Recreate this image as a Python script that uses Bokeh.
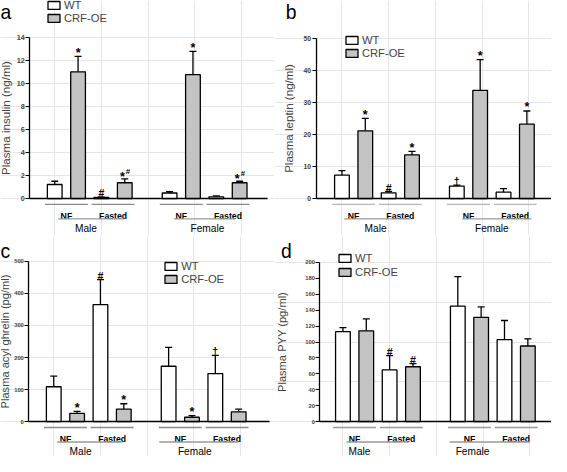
from bokeh.plotting import figure
from bokeh.models import (Range1d, FixedTicker, Whisker, TeeHead, LinearAxis,
                          ColumnDataSource, Legend, LegendItem, Label)
from bokeh.layouts import row, column
from bokeh.embed import file_html
from bokeh.resources import INLINE
from bokeh.core.properties import value

# ---------------- data ----------------
sexes = ["Male", "Female"]
conditions = ["NF", "Fasted"]
genotypes = ["WT", "CRF-OE"]
# group order: Male-NF, Male-Fasted, Female-NF, Female-Fasted

insulin_ticks = [0, 2, 4, 6, 8, 10, 12, 14]
insulin_wt = [1.22, 0.10, 0.48, 0.15]
insulin_wt_err = [0.28, 0.03, 0.11, 0.08]
insulin_oe = [11.0, 1.37, 10.75, 1.37]
insulin_oe_err = [1.33, 0.33, 2.02, 0.13]
insulin_wt_sig = ["", "#", "", ""]
insulin_oe_sig = ["*", "*#", "*", "*#"]

leptin_ticks = [0, 10, 20, 30, 40, 50]
leptin_wt = [7.3, 1.8, 3.9, 2.0]
leptin_wt_err = [1.4, 0.4, 0.3, 1.1]
leptin_oe = [21.1, 13.6, 33.7, 23.2]
leptin_oe_err = [3.9, 1.1, 9.6, 4.1]
leptin_wt_sig = ["", "#", "\u2020", ""]
leptin_oe_sig = ["*", "*", "*", "*"]

ghrelin_ticks = [0, 100, 200, 300, 400, 500]
ghrelin_wt = [109, 365, 173, 150]
ghrelin_wt_err = [33, 78, 59, 57]
ghrelin_oe = [26, 39, 14, 31]
ghrelin_oe_err = [6, 17, 5, 8]
ghrelin_wt_sig = ["", "#", "", "\u2020"]
ghrelin_oe_sig = ["*", "*", "*", ""]

pyy_ticks = [0, 20, 40, 60, 80, 100, 120, 140, 160, 180, 200]
pyy_wt = [113, 65, 145, 103]
pyy_wt_err = [5, 18, 37, 24]
pyy_oe = [114, 69, 131, 95]
pyy_oe_err = [15, 4, 13, 9]
pyy_wt_sig = ["", "#", "", ""]
pyy_oe_sig = ["", "#", "", ""]

# ---------------- layout helpers ----------------
FONT = "Liberation Sans"
REF_X0, REF_Y0 = 3, 3
PAGE_W, PAGE_H = 551, 456
SX = PAGE_W / (567 - REF_X0)
SY = PAGE_H / (475 - REF_Y0)


def X(x):
    return (x - REF_X0) * SX


def Y(y):
    return (y - REF_Y0) * SY


col_edges = [0, round(X(283)), PAGE_W]
row_edges = [0, round(Y(246)), PAGE_H]

SLOT = 23.9          # ref px between neighbouring bar centres
FEMALE_SHIFT = 4.92  # slots from first male bar to first female bar
BAR_W = 0.63
LW = 1.3
GREY_FILL = "#c3c3c3"
LINE_GREY = "#9a9a9a"


def px(v):
    return f"{v * SY:.2f}px"


def make_panel(spec, wt, wt_err, oe, oe_err, wt_sig, oe_sig, ticks, ylabel, letter):
    c, r = spec["col"], spec["row"]
    W = col_edges[c + 1] - col_edges[c]
    H = row_edges[r + 1] - row_edges[r]
    px0, py0 = col_edges[c], row_edges[r]
    slot_px = SLOT * SX
    xc0 = X(spec["first_center"])

    def dx(page_x):            # page pixel -> x data
        return (page_x - xc0) / slot_px

    ppu = (spec["base_y"] - spec["top_y"]) / ticks[-1]     # ref px per unit
    ppu_page = ppu * SY
    yb = Y(spec["base_y"])

    def dy(page_y):            # page pixel -> y data
        return (yb - page_y) / ppu_page

    p = figure(width=W, height=H, x_range=Range1d(dx(px0), dx(px0 + W)),
               y_range=Range1d(dy(py0 + H), dy(py0)), output_backend="svg",
               toolbar_location=None, tools="", x_axis_location=None,
               y_axis_location=None,
               min_border_left=0, min_border_right=0, min_border_top=0,
               min_border_bottom=0)
    p.outline_line_color = None
    p.background_fill_color = "white"

    axis_x = dx(X(spec["axis_x"]))
    ax = LinearAxis(fixed_location=axis_x)
    ax.ticker = FixedTicker(ticks=ticks)
    ax.bounds = (ticks[0], ticks[-1])
    ax.axis_label = ylabel
    ax.axis_label_text_font = FONT
    ax.axis_label_text_font_style = "normal"
    ax.axis_label_text_font_size = px(spec["ylabel_fs"])
    ax.axis_label_standoff = spec["label_standoff"]
    ax.major_label_text_font = FONT
    ax.major_label_text_font_style = "bold"
    ax.major_label_text_font_size = px(spec["tick_fs"])
    ax.major_label_standoff = 1
    ax.major_tick_out = 4
    ax.major_tick_in = 0
    ax.minor_tick_line_color = None
    ax.axis_line_width = LW
    ax.major_tick_line_width = 1.1
    p.add_layout(ax, "left")

    base_end = dx(X(spec["base_end"]))
    bx = LinearAxis(fixed_location=0, bounds=(axis_x, base_end),
                    ticker=FixedTicker(ticks=[]), axis_line_width=LW,
                    major_tick_line_color=None, minor_tick_line_color=None,
                    major_label_text_font_size="0px")
    p.add_layout(bx, "below")

    # bar positions built from the category indices
    firsts = [si * FEMALE_SHIFT + ci * 2 for si in range(len(sexes))
              for ci in range(len(conditions))]
    x_wt = [f for f in firsts]
    x_oe = [f + 1 for f in firsts]

    renderers = []
    for xs, vals, errs, fill in ((x_wt, wt, wt_err, "white"),
                                 (x_oe, oe, oe_err, GREY_FILL)):
        src = ColumnDataSource(dict(x=xs, top=vals,
                                    up=[v + e for v, e in zip(vals, errs)]))
        rr = p.vbar(x="x", top="top", bottom=0, width=BAR_W, source=src,
                    fill_color=fill, line_color="black", line_width=LW)
        renderers.append(rr)
        p.add_layout(Whisker(source=src, base="x", lower="top", upper="up",
                             line_color="black", line_width=LW,
                             upper_head=TeeHead(size=7, line_color="black",
                                                line_width=LW),
                             lower_head=None))

    # significance marks
    offs = {"*": -4.0, "#": -3.8, "\u2020": -4.0}
    for xs, vals, errs, sigs in ((x_wt, wt, wt_err, wt_sig),
                                 (x_oe, oe, oe_err, oe_sig)):
        for xv, v, e, s in zip(xs, vals, errs, sigs):
            if not s:
                continue
            if len(s) == 1:
                fs = 13 if s == "*" else 11
                p.text(x=[xv], y=[v + e], text=[s], text_font=value(FONT),
                       text_font_style="bold", text_font_size=px(fs),
                       text_align="center", text_baseline="alphabetic",
                       y_offset=offs[s] * SY, text_color="black")
            else:
                p.text(x=[xv], y=[v + e], text=[s[0]], text_font=value(FONT),
                       text_font_style="bold", text_font_size=px(13),
                       text_align="center", text_baseline="alphabetic",
                       x_offset=-2.5 * SX, y_offset=-2.5 * SY, text_color="black")
                p.text(x=[xv], y=[v + e], text=[s[1:]], text_font=value(FONT),
                       text_font_style="bold", text_font_size=px(8),
                       text_align="center", text_baseline="alphabetic",
                       x_offset=3.2 * SX, y_offset=-8.0 * SY, text_color="black")

    # condition lines / labels
    y_cl = -6 / ppu
    p.segment(x0=[f - 0.42 for f in firsts], x1=[f + 1.42 for f in firsts],
              y0=y_cl, y1=y_cl, line_color=spec["cond_grey"], line_width=LW)
    p.text(x=[f + 0.5 for f in firsts], y=-(14.5 + 0.36 * 9) / ppu,
           text=[cnd for _ in sexes for cnd in conditions],
           text_font=value(FONT), text_font_style="bold",
           text_font_size=px(9), text_align="center",
           text_baseline="alphabetic", text_color="black")

    # sex lines / labels
    y_sl = -21 / ppu
    sx0 = [si * FEMALE_SHIFT + spec["sex_line"][si][0] for si in range(2)]
    sx1 = [si * FEMALE_SHIFT + spec["sex_line"][si][1] for si in range(2)]
    p.segment(x0=sx0, x1=sx1, y0=y_sl, y1=y_sl, line_color=LINE_GREY,
              line_width=LW)
    p.text(x=[si * FEMALE_SHIFT + spec["sex_text"][si] for si in range(2)],
           y=-31.3 / ppu, text=sexes,
           text_font=value(FONT), text_font_size=px(10.5),
           text_align="center", text_baseline="alphabetic", text_color="black")

    # legend: one entry per swatch so each sits where the original has it
    fs_leg = 11.6 * SY
    item_h = 1.15 * fs_leg
    lx = X(spec["legend"][0]) - px0
    for rr, lab, cy in zip(renderers, genotypes, spec["legend"][1:]):
        bottom_page = Y(cy) + item_h / 2
        ly = (py0 + H) - bottom_page
        leg = Legend(items=[LegendItem(label=lab, renderers=[rr])],
                     location=(lx, ly), orientation="vertical",
                     glyph_width=round(15 * SX), glyph_height=round(10 * SY),
                     label_standoff=3, label_text_font=FONT,
                     label_text_font_size=f"{fs_leg:.2f}px",
                     label_height=round(fs_leg), label_width=10,
                     padding=0, margin=0, spacing=0,
                     border_line_color=None, background_fill_alpha=0)
        p.add_layout(leg)

    # panel letter
    p.add_layout(Label(x=dx(X(spec["letter"][0])), y=dy(Y(spec["letter"][1])),
                       x_units="data", y_units="data", text=letter,
                       text_font=FONT, text_font_size=px(20),
                       text_align="left", text_baseline="alphabetic",
                       text_color="black"))
    return p


spec_a = dict(col=0, row=0, axis_x=33, base_y=208, top_y=41, first_center=58.5,
              base_end=276, legend=(50, 7.3, 21), letter=(3, 15),
              sex_line=[(0.15, 2.95), (0.19, 2.81)], sex_text=[1.34, 1.62],
              label_standoff=1, tick_fs=7.5, ylabel_fs=12, cond_grey="#8a8a8a")
spec_b = dict(col=1, row=0, axis_x=326, base_y=208, top_y=42, first_center=352.5,
              base_end=567, legend=(355, 44.0, 57.7), letter=(295, 15),
              sex_line=[(0.10, 2.94), (0.23, 3.2)], sex_text=[1.44, 1.5],
              label_standoff=6, tick_fs=7, ylabel_fs=12, cond_grey="#b8b8b8")
spec_c = dict(col=0, row=1, axis_x=32, base_y=439, top_y=273, first_center=57.5,
              base_end=278, legend=(170, 278.0, 291.7), letter=(3, 263),
              sex_line=[(0.15, 2.94), (-0.4, 2.98)], sex_text=[1.15, 1.12],
              label_standoff=0, tick_fs=6, ylabel_fs=11.5, cond_grey="#8a8a8a")
spec_d = dict(col=1, row=1, axis_x=330, base_y=439, top_y=274, first_center=353.5,
              base_end=567, legend=(348, 270.0, 284.0), letter=(290, 263),
              sex_line=[(0.15, 2.81), (-0.35, 3.1)], sex_text=[0.71, 0.63],
              label_standoff=14, tick_fs=6, ylabel_fs=11.5, cond_grey="#9a9a9a")

pa = make_panel(spec_a, insulin_wt, insulin_wt_err, insulin_oe, insulin_oe_err,
                insulin_wt_sig, insulin_oe_sig, insulin_ticks,
                "Plasma insulin (ng/ml)", "a")
pb = make_panel(spec_b, leptin_wt, leptin_wt_err, leptin_oe, leptin_oe_err,
                leptin_wt_sig, leptin_oe_sig, leptin_ticks,
                "Plasma leptin (ng/ml)", "b")
pc = make_panel(spec_c, ghrelin_wt, ghrelin_wt_err, ghrelin_oe, ghrelin_oe_err,
                ghrelin_wt_sig, ghrelin_oe_sig, ghrelin_ticks,
                "Plasma acyl ghrelin (pg/ml)", "c")
pd = make_panel(spec_d, pyy_wt, pyy_wt_err, pyy_oe, pyy_oe_err,
                pyy_wt_sig, pyy_oe_sig, pyy_ticks,
                "Plasma PYY (pg/ml)", "d")

layout = column(row(pa, pb), row(pc, pd))
open("out.html", "w").write(file_html(layout, INLINE))
